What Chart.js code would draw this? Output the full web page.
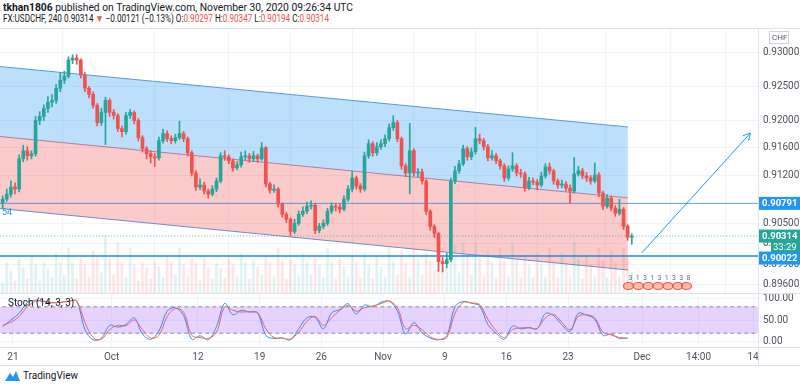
<!DOCTYPE html>
<html>
<head>
<meta charset="utf-8">
<script src="https://cdn.jsdelivr.net/npm/chart.js@4.4.1/dist/chart.umd.min.js"></script>
<style>
  body { margin: 0; width: 800px; height: 388px; background: #fff; font-family: Roboto, "Open Sans", sans-serif; position: relative; overflow: hidden; }
  .hdr { position: absolute; left: 3px; color: #131722; white-space: nowrap; transform-origin: left top; }
  .red { color: #ef5350; }
  #mainWrap { position: absolute; left: 0; top: 29px; width: 800px; height: 264px; }
  #stochWrap { position: absolute; left: 0; top: 293px; width: 800px; height: 72px; }
  .hl { position: absolute; left: 0; width: 800px; height: 1px; background: #e0e3eb; }
  .vl { position: absolute; top: 28px; left: 758px; width: 1px; height: 337px; background: #e0e3eb; }
  #logo { position: absolute; left: 5px; top: 370px; font-size: 10px; color: #131722; display: flex; align-items: center; gap: 3px; }
</style>
</head>
<body>
<div class="hdr" id="hdr1" style="top:1px;font-size:10.6px"><b>tkhan1806</b> published on TradingView.com, November 30, 2020 09:26:34 UTC</div>
<div class="hdr" id="hdr2" style="top:13px;font-size:10px">FX:USDCHF, 240 0.90314 <span class="red">▼</span> −0.00121 (−0.13%) O:<span class="red">0.90297</span> H:<span class="red">0.90347</span> L:<span class="red">0.90194</span> C:<span class="red">0.90314</span></div>
<div id="mainWrap"><canvas id="main"></canvas></div>
<div id="stochWrap"><canvas id="stoch"></canvas></div>
<div class="hl" style="top:28px"></div>
<div class="hl" style="top:293px"></div>
<div class="hl" style="top:347px"></div>
<div class="hl" style="top:365px"></div>
<div class="vl"></div>
<div id="logo">
  <svg width="15" height="11" viewBox="0 0 15 11"><path d="M0 11 L5 3 L8 7 L11 1 L15 11 Z" fill="#2196f3"/></svg>
  <span>TradingView</span>
</div>

<script>
// 4h USDCHF, three bars per trading day
const firstOpen = 0.90794
const closes = [
  0.90853,0.90926,0.91029,0.91000,0.91441,0.91559,0.91485,0.91515,0.92000,0.92059,
  0.92176,0.92265,0.92294,0.92471,0.92588,0.92647,0.92882,0.92912,0.92882,0.92662,
  0.92471,0.92382,0.92221,0.91971,0.92118,0.92294,0.92118,0.92074,0.91882,0.91838,
  0.92074,0.92118,0.92000,0.91750,0.91588,0.91515,0.91471,0.91456,0.91706,0.91809,
  0.91735,0.91706,0.91750,0.91809,0.91735,0.91529,0.91235,0.91029,0.91059,0.90971,
  0.90926,0.91000,0.91118,0.91485,0.91470,0.91412,0.91309,0.91353,0.91471,0.91485,
  0.91441,0.91485,0.91441,0.91603,0.91074,0.90985,0.91000,0.90779,0.90632,0.90559,
  0.90382,0.90500,0.90632,0.90676,0.90750,0.90765,0.90397,0.90456,0.90500,0.90676,
  0.90750,0.90735,0.90706,0.90853,0.91000,0.91162,0.91044,0.91000,0.91485,0.91662,
  0.91529,0.91618,0.91662,0.91735,0.91897,0.91971,0.91735,0.91338,0.91235,0.91559,
  0.91235,0.91250,0.91118,0.90676,0.90456,0.90353,0.89941,0.89912,0.89971,0.91118,
  0.91265,0.91368,0.91588,0.91471,0.91544,0.91735,0.91706,0.91618,0.91456,0.91485,
  0.91412,0.91338,0.91162,0.91294,0.91338,0.91235,0.91221,0.91015,0.91118,0.91103,
  0.91059,0.91191,0.91324,0.91265,0.91118,0.91059,0.91074,0.91015,0.90971,0.91221,
  0.91265,0.91191,0.91162,0.91118,0.91206,0.90941,0.90750,0.90868,0.90721,0.90647,
  0.90706,0.90456,0.90297,0.90314
]
const highs = [
  0.90900,0.91000,0.91120,0.91090,0.91500,0.91640,0.91620,0.91560,0.92060,0.92130,
  0.92230,0.92350,0.92380,0.92530,0.92700,0.92720,0.92930,0.92960,0.92960,0.92900,
  0.92700,0.92500,0.92420,0.92250,0.92180,0.92340,0.92320,0.92160,0.92100,0.91920,
  0.92120,0.92160,0.92140,0.92030,0.91780,0.91620,0.91560,0.91520,0.91760,0.91870,
  0.91850,0.91780,0.91800,0.91990,0.91840,0.91760,0.91560,0.91270,0.91150,0.91100,
  0.91000,0.91050,0.91160,0.91530,0.91560,0.91500,0.91440,0.91400,0.91540,0.91560,
  0.91520,0.91550,0.91510,0.91680,0.91620,0.91100,0.91060,0.91020,0.90800,0.90660,
  0.90580,0.90560,0.90680,0.90740,0.90810,0.90830,0.90790,0.90500,0.90550,0.90720,
  0.90800,0.90790,0.90780,0.90900,0.91050,0.91260,0.91190,0.91080,0.91540,0.91720,
  0.91690,0.91680,0.91720,0.91790,0.91950,0.92070,0.92000,0.91760,0.91370,0.91960,
  0.91590,0.91300,0.91290,0.91140,0.90700,0.90480,0.90370,0.90000,0.90060,0.91160,
  0.91330,0.91420,0.91640,0.91620,0.91600,0.91900,0.91800,0.91740,0.91650,0.91560,
  0.91520,0.91440,0.91370,0.91340,0.91530,0.91370,0.91290,0.91250,0.91170,0.91160,
  0.91140,0.91250,0.91370,0.91380,0.91290,0.91150,0.91130,0.91110,0.91060,0.91460,
  0.91330,0.91300,0.91240,0.91200,0.91380,0.91240,0.90970,0.90920,0.90900,0.90760,
  0.90850,0.90730,0.90480,0.90347
]
const lows = [
  0.90720,0.90820,0.90880,0.90930,0.90960,0.91400,0.91420,0.91440,0.91480,0.91940,
  0.92000,0.92120,0.92200,0.92250,0.92420,0.92540,0.92620,0.92830,0.92820,0.92620,
  0.92420,0.92330,0.92180,0.91920,0.91930,0.91650,0.92060,0.92020,0.91840,0.91760,
  0.91800,0.92030,0.91950,0.91700,0.91540,0.91440,0.91380,0.91330,0.91420,0.91670,
  0.91690,0.91660,0.91670,0.91720,0.91690,0.91480,0.91190,0.90980,0.90990,0.90930,
  0.90870,0.90900,0.90960,0.91090,0.91420,0.91370,0.91260,0.91280,0.91320,0.91430,
  0.91390,0.91400,0.91390,0.91420,0.91030,0.90940,0.90950,0.90740,0.90590,0.90510,
  0.90320,0.90350,0.90470,0.90600,0.90640,0.90710,0.90350,0.90360,0.90420,0.90470,
  0.90640,0.90680,0.90650,0.90680,0.90820,0.90960,0.91000,0.90950,0.90970,0.91450,
  0.91480,0.91490,0.91580,0.91620,0.91700,0.91860,0.91690,0.91290,0.91180,0.90930,
  0.91190,0.91180,0.91070,0.90630,0.90400,0.90290,0.89800,0.89790,0.89850,0.89940,
  0.91080,0.91230,0.91340,0.91420,0.91430,0.91510,0.91660,0.91570,0.91410,0.91420,
  0.91370,0.91290,0.91110,0.91130,0.91260,0.91190,0.91170,0.90970,0.90990,0.91060,
  0.90990,0.91030,0.91160,0.91220,0.91070,0.91010,0.91020,0.90970,0.90790,0.90940,
  0.91190,0.91150,0.91110,0.91070,0.91090,0.90890,0.90700,0.90720,0.90680,0.90600,
  0.90620,0.90410,0.90250,0.90194
]
// tick volume per bar (estimated from the faint histogram)
const volumes = [
  1000,3000,2200, 1200,3500,2500, 1400,3800,2800, 1200,3000,2400, 1500,4000,3000,
  1800,4500,3000, 1400,3500,2800, 1600,4200,3800, 2000,5800,3500, 1800,5000,3000,
  1500,4500,2800, 1200,3000,2500, 1400,3200,2600, 1500,3800,3000, 1800,4500,2800,
  1600,3500,3000, 1200,3600,2500, 1400,3000,2400, 1500,3500,2800, 1600,4000,3000,
  1400,3200,2600, 1800,3800,3000, 1600,4500,3200, 1400,3500,2800, 1600,4000,3000,
  1800,3600,2800, 1500,4500,3000, 1400,3500,2600, 1600,3800,3000, 1500,4000,2800,
  1400,3600,2600, 1600,4500,3200, 1800,4200,3000, 1600,4500,3400, 1800,4000,3200,
  2200,5500,4500, 2500,6000,4800, 2000,5000,3800, 1800,5000,3500, 1600,4200,3000,
  1500,4500,3200, 1600,5000,3400, 1400,3800,2800, 1500,4000,3000, 1600,4500,3200,
  1500,4000,3000, 1600,5000,3400, 1400,3800,2800, 1600,4500,3200, 1500,4200,3000,
  1600,4500,3500, 2000
]

// stochastic (14,3,3), one reading every second bar
const stochK = [
  35,50,65,90,95,92,89,90,93,93,
  28,5,8,38,34,40,55,18,6,25,
  70,78,60,6,14,5,35,88,62,72,
  68,66,15,8,9,5,30,55,56,30,
  66,74,87,64,84,80,90,93,70,18,
  44,21,9,5,14,80,92,88,82,40,
  20,6,36,30,33,30,65,60,39,24,
  65,61,52,15,18,8,9
]
const stochD = [
  38,45,58,80,92,93,90,90,92,93,
  45,10,6,28,38,37,50,28,9,15,
  58,76,68,15,10,8,22,80,72,68,
  69,67,30,10,9,7,22,47,58,38,
  55,72,83,70,78,82,87,93,78,30,
  38,28,12,6,10,65,90,89,85,52,
  26,10,28,32,32,31,55,63,45,28,
  58,62,55,22,16,10,9
]

// time axis in trading days (0 = Fri 18 Sep)
const timeTickDays = [1, 9, 16, 21, 26, 31, 36, 41, 46, 52, 56.58, 61]
const timeTickLabels = ['21', 'Oct', '12', '19', '26', 'Nov', '9', '16', '23', 'Dec', '14:00', '14']
const priceTicks = [0.93, 0.925, 0.92, 0.916, 0.912, 0.905, 0.902, 0.899, 0.896]
const stochTicks = [0, 50, 100]

// drawings
const channelDays = [-0.05, 50.85]
const channelUpper = [0.92788, 0.91906]
const channelMid = [0.91767, 0.90870]
const channelLower = [0.90716, 0.89819]
const resistance = 0.90791
const support = 0.90022
const lastPrice = 0.90314
const arrowDays = [51.97, 60.79]
const arrowPrices = [0.90067, 0.91818]
const eventDays = [50.9, 51.7, 52.5, 53.3, 54.1, 54.9, 55.6]
const eventLabels = ['3', '1', '3', '1', '3', '1', '3', '3', '8']

const up = '#26a69a'
const down = '#ef5350'
const gridColor = '#f0f3fa'
const axisText = '#50535e'
const tickFont = {family: 'Roboto', size: 10}

// header lines squeezed to the widths they have in the screenshot
function fitWidth(id, w) {
    const el = document.getElementById(id)
    el.style.transform = 'scaleX(' + (w / el.getBoundingClientRect().width) + ')'
}
fitWidth('hdr1', 350)
fitWidth('hdr2', 326)

function barDay(i) {
    return Math.floor(i / 3) + ((i % 3) + 0.5) / 3
}

const opens = closes.map((c, i) => i === 0 ? firstOpen : closes[i - 1])
const isUp = i => closes[i] >= opens[i]
const candleColor = ctx => isUp(ctx.dataIndex) ? up : down
const volColor = ctx => isUp(ctx.dataIndex) ? 'rgba(38,166,154,0.14)' : 'rgba(239,83,80,0.14)'

function flat(v) {
    return [{x: -1, y: v}, {x: 62, y: v}]
}

function seg(days, vals) {
    return days.map((d, i) => ({x: d, y: vals[i]}))
}

// keep the plot area flush with the canvas edges
function noPadV(s) { s.paddingTop = 0; s.paddingBottom = 0 }
function noPadH(s) { s.paddingLeft = 0; s.paddingRight = 0 }

const mainDecor = {
    id: 'mainDecor',
    afterDatasetsDraw(chart) {
        const ctx = chart.ctx
        const xs = chart.scales.x, ys = chart.scales.y
        // arrow head
        const x1 = xs.getPixelForValue(arrowDays[0]), y1 = ys.getPixelForValue(arrowPrices[0])
        const x2 = xs.getPixelForValue(arrowDays[1]), y2 = ys.getPixelForValue(arrowPrices[1])
        const a = Math.atan2(y2 - y1, x2 - x1)
        ctx.save()
        ctx.strokeStyle = '#2196f3'
        ctx.lineWidth = 1
        ctx.beginPath()
        ctx.moveTo(x2 - 8 * Math.cos(a - 0.5), y2 - 8 * Math.sin(a - 0.5))
        ctx.lineTo(x2, y2)
        ctx.lineTo(x2 - 8 * Math.cos(a + 0.5), y2 - 8 * Math.sin(a + 0.5))
        ctx.stroke()
        ctx.fillStyle = '#2196f3'
        ctx.font = '9px Roboto'
        ctx.textBaseline = 'top'
        ctx.fillText('54', 2, ys.getPixelForValue(resistance) + 5)

        // event markers under the last bars
        const yb = chart.chartArea.bottom - 7
        eventDays.forEach(d => {
            const x = xs.getPixelForValue(d)
            ctx.beginPath()
            ctx.ellipse(x, yb, 5, 3.5, 0, 0, Math.PI * 2)
            ctx.fillStyle = 'rgba(255,140,100,0.55)'
            ctx.fill()
            ctx.strokeStyle = '#ef5350'
            ctx.lineWidth = 1.2
            ctx.stroke()
        })
        ctx.fillStyle = '#6a6d78'
        ctx.font = '7px Roboto'
        ctx.textBaseline = 'middle'
        const x0 = xs.getPixelForValue(eventDays[0]), xe = xs.getPixelForValue(eventDays[eventDays.length - 1])
        eventLabels.forEach((t, i) => {
            ctx.fillText(t, x0 + (xe - x0) * i / (eventLabels.length - 1), yb - 8)
        })
        ctx.restore()
    },
    afterDraw(chart) {
        const ctx = chart.ctx
        const ys = chart.scales.y
        const left = chart.chartArea.right
        ctx.save()
        ctx.font = 'bold 9.5px Roboto'
        ctx.textBaseline = 'middle'
        const boxes = [
            {v: resistance, bg: '#2196f3', dy: 0},
            {v: lastPrice, bg: up, dy: 0},
            {v: support, bg: '#2196f3', dy: 2},
        ]
        boxes.forEach(b => {
            const y = ys.getPixelForValue(b.v) + b.dy
            ctx.fillStyle = b.bg
            ctx.fillRect(left + 1, y - 6.5, 41, 13)
            ctx.fillStyle = '#fff'
            ctx.fillText(b.v.toFixed(5), left + 4, y + 0.5)
        })
        const yl = ys.getPixelForValue(lastPrice)
        ctx.fillStyle = up
        ctx.fillRect(left + 13, yl + 6, 29, 10)
        ctx.fillStyle = '#fff'
        ctx.font = '9.5px Roboto'
        ctx.fillText('33:29', left + 15, yl + 11.5)
        // currency tag
        ctx.strokeStyle = '#d1d4dc'
        ctx.strokeRect(left + 11.5, 2.5, 19, 12)
        ctx.fillStyle = axisText
        ctx.font = '8px Roboto'
        ctx.fillText('CHF', left + 14, 9)
        ctx.restore()
    }
}

new Chart(document.getElementById('main'), {
    type: 'bar',
    data: {
        datasets: [
            {
                data: closes.map((c, i) => ({x: barDay(i), y: [lows[i], highs[i]]})),
                backgroundColor: candleColor, barThickness: 1, grouped: false, order: 2,
            },
            {
                data: closes.map((c, i) => ({x: barDay(i), y: [opens[i], c]})),
                backgroundColor: candleColor, barThickness: 3, minBarLength: 1, grouped: false, order: 1,
            },
            {
                data: volumes.map((v, i) => ({x: barDay(i), y: v})),
                yAxisID: 'yv', backgroundColor: volColor, barThickness: 2, grouped: false, order: 7,
            },
            {
                type: 'line', data: seg(channelDays, channelUpper),
                borderColor: '#5b95e0', borderWidth: 1, pointRadius: 0,
                fill: '+1', backgroundColor: 'rgba(33,150,243,0.3)', order: 10,
            },
            {
                type: 'line', data: seg(channelDays, channelMid),
                borderColor: 'rgba(200,90,120,0.8)', borderWidth: 1, pointRadius: 0,
                fill: '+1', backgroundColor: 'rgba(239,83,80,0.3)', order: 11,
            },
            {
                type: 'line', data: seg(channelDays, channelLower),
                borderColor: '#5b95e0', borderWidth: 1, pointRadius: 0, fill: false, order: 12,
            },
            {
                type: 'line', data: flat(resistance),
                borderColor: 'rgba(60,130,220,0.8)', borderWidth: 1, pointRadius: 0, order: 5,
            },
            {
                type: 'line', data: flat(support),
                borderColor: '#1e88e5', borderWidth: 1.5, pointRadius: 0, order: 5,
            },
            {
                type: 'line', data: flat(lastPrice),
                borderColor: 'rgba(38,166,154,0.8)', borderWidth: 1, borderDash: [1, 2], pointRadius: 0, order: 6,
            },
            {
                type: 'line', data: seg(arrowDays, arrowPrices),
                borderColor: '#2196f3', borderWidth: 1, pointRadius: 0, order: 3,
            },
        ],
    },
    options: {
        responsive: true,
        maintainAspectRatio: false,
        animation: false,
        layout: {padding: 0},
        plugins: {legend: {display: false}, tooltip: {enabled: false}},
        scales: {
            x: {
                type: 'linear', min: -0.05, max: 61.4, offset: false,
                afterBuildTicks: s => { s.ticks = timeTickDays.map(v => ({value: v})) },
                afterFit: s => { s.height = 0; noPadH(s) },
                ticks: {display: false},
                grid: {color: gridColor, drawTicks: false},
                border: {display: false},
            },
            y: {
                position: 'right', min: 0.89483, max: 0.93336,
                afterBuildTicks: s => { s.ticks = priceTicks.map(v => ({value: v})) },
                afterFit: s => { s.width = 42; noPadV(s) },
                ticks: {callback: v => v.toFixed(5), font: tickFont, color: axisText, padding: 5},
                grid: {color: gridColor, drawTicks: false},
                border: {color: '#e0e3eb'},
            },
            yv: {
                display: false, min: 0, max: 26400,
            },
        },
    },
    plugins: [mainDecor],
})

const stochDecor = {
    id: 'stochDecor',
    afterDraw(chart) {
        const ctx = chart.ctx
        ctx.save()
        ctx.fillStyle = '#131722'
        ctx.font = '10px Roboto'
        ctx.textBaseline = 'middle'
        ctx.fillText('Stoch (14, 3, 3)', 8, 10)
        ctx.restore()
    }
}

new Chart(document.getElementById('stoch'), {
    type: 'line',
    data: {
        datasets: [
            {
                data: flat(80), borderColor: '#8a8d96', borderWidth: 1, borderDash: [4, 3],
                pointRadius: 0, fill: '+1', backgroundColor: 'rgba(155,80,255,0.25)',
            },
            {
                data: flat(20), borderColor: '#8a8d96', borderWidth: 1, borderDash: [4, 3],
                pointRadius: 0, fill: false,
            },
            {
                data: stochD.map((v, k) => ({x: barDay(2 * k), y: v})),
                borderColor: '#ff6d3a', borderWidth: 1, pointRadius: 0, tension: 0.35,
            },
            {
                data: stochK.map((v, k) => ({x: barDay(2 * k), y: v})),
                borderColor: '#2196f3', borderWidth: 1, pointRadius: 0, tension: 0.35,
            },
        ],
    },
    options: {
        responsive: true,
        maintainAspectRatio: false,
        animation: false,
        layout: {padding: 0},
        plugins: {legend: {display: false}, tooltip: {enabled: false}},
        scales: {
            x: {
                type: 'linear', min: -0.05, max: 61.4, offset: false,
                afterBuildTicks: s => { s.ticks = timeTickDays.map(v => ({value: v})) },
                afterFit: s => { s.height = 18; noPadH(s) },
                ticks: {
                    callback: (v, i) => timeTickLabels[i], autoSkip: false, maxRotation: 0,
                    font: tickFont, color: axisText, padding: 4,
                },
                grid: {color: gridColor, drawTicks: false},
                border: {display: false},
            },
            y: {
                position: 'right', min: -11.4, max: 111.4,
                afterBuildTicks: s => { s.ticks = stochTicks.map(v => ({value: v})) },
                afterFit: s => { s.width = 42; noPadV(s) },
                ticks: {callback: v => v.toFixed(2), font: tickFont, color: axisText, padding: 5},
                grid: {color: gridColor, drawTicks: false},
                border: {color: '#e0e3eb'},
            },
        },
    },
    plugins: [stochDecor],
})
</script>
</body>
</html>
